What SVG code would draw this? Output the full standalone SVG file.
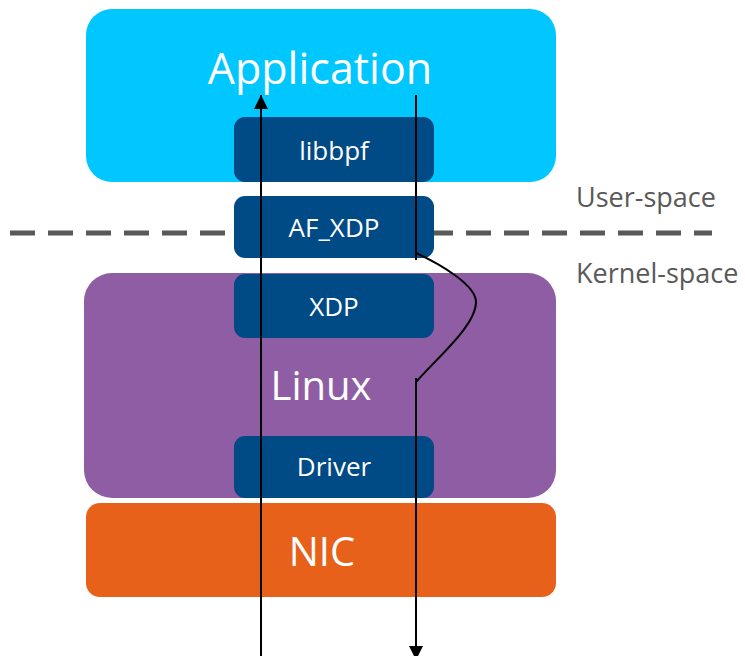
<svg xmlns="http://www.w3.org/2000/svg" width="745" height="656" viewBox="0 0 745 656">
  <style>
    .layer-big { font-family: "Open Sans", "Noto Sans", sans-serif; fill: #ffffff; text-anchor: middle; }
    .block { fill: #004A86; }
    .block-label { font-family: "Open Sans", "Noto Sans", sans-serif; font-size: 26px; fill: #ffffff; text-anchor: middle; }
    .side-label { font-family: "Open Sans", "Noto Sans", sans-serif; font-size: 27px; fill: #595959; }
    .flow { fill: none; stroke: #000000; stroke-width: 2; }
  </style>
  <defs>
    <marker id="arrow" viewBox="0 0 10 10" refX="10" refY="5" markerWidth="14" markerHeight="14" markerUnits="userSpaceOnUse" orient="auto">
      <path d="M0,0 L10,5 L0,10 z" fill="#000000"/>
    </marker>
  </defs>

  <!-- user / kernel boundary -->
  <line x1="10" y1="233" x2="712" y2="233" stroke="#595959" stroke-width="5" stroke-dasharray="25 13"/>
  <text class="side-label" x="576" y="207">User-space</text>
  <text class="side-label" x="576" y="283">Kernel-space</text>

  <g id="application">
    <rect x="86" y="9" width="470" height="173" rx="26" fill="#00C7FF"/>
    <text class="layer-big" x="320" y="84" font-size="43">Application</text>
  </g>

  <g id="linux">
    <rect x="84" y="273" width="472" height="225" rx="28" fill="#8E5DA3"/>
    <text class="layer-big" x="321" y="400" font-size="40">Linux</text>
  </g>

  <g id="nic">
    <rect x="86" y="503" width="470" height="94" rx="14" fill="#E8611A"/>
    <text class="layer-big" x="322" y="566" font-size="40">NIC</text>
  </g>

  <g id="libbpf">
    <rect class="block" x="234" y="117" width="200" height="65" rx="11"/>
    <text class="block-label" x="334" y="160">libbpf</text>
  </g>

  <g id="af_xdp">
    <rect class="block" x="234" y="196" width="200" height="62" rx="11"/>
    <text class="block-label" x="334" y="237">AF_XDP</text>
  </g>

  <g id="xdp">
    <rect class="block" x="234" y="274" width="200" height="64" rx="11"/>
    <text class="block-label" x="334" y="316">XDP</text>
  </g>

  <g id="driver">
    <rect class="block" x="234" y="436" width="200" height="62" rx="11"/>
    <text class="block-label" x="334" y="476">Driver</text>
  </g>

  <g id="connectors">
    <!-- receive path up to the application -->
    <line class="flow" x1="261" y1="656" x2="261" y2="95" marker-end="url(#arrow)"/>
    <!-- transmit path: down through AF_XDP, bypassing XDP, out through the driver -->
    <path class="flow" d="M416,95 L416,260 M416,253 C440,264 476,285 476,302 C476,325 440,355 416,382 M416,378 L416,660" marker-end="url(#arrow)"/>
  </g>
</svg>
